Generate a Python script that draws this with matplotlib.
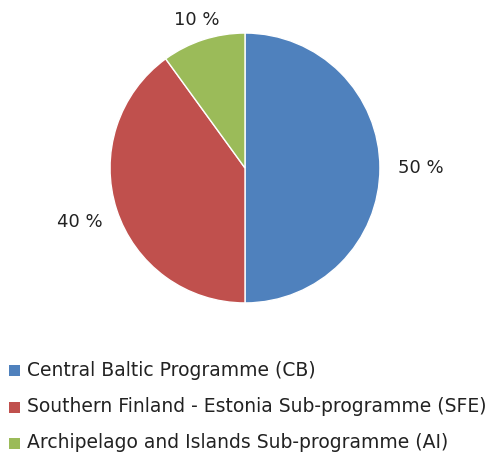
import numpy as np
import matplotlib.pyplot as plt
from matplotlib.patches import Rectangle

plt.rcParams['font.family'] = ['DejaVu Sans']

labels = ['Central Baltic Programme (CB)',
          'Southern Finland - Estonia Sub-programme (SFE)',
          'Archipelago and Islands Sub-programme (AI)']
shares = [50, 40, 10]
colors = ['#4F81BD', '#C0504D', '#9BBB59']
label_dist = [1.30, 1.29, 1.15]

fig = plt.figure(figsize=(4.89, 4.59), dpi=100)
ax = fig.add_axes([0.225, 0.340, 0.552, 0.588])
wedges, _ = ax.pie(shares, colors=colors, startangle=90, counterclock=False,
                   wedgeprops=dict(edgecolor='white', linewidth=1))
ax.set_xlim(-1, 1)
ax.set_ylim(-1, 1)
ax.set_aspect('equal')

for w, s, d in zip(wedges, shares, label_dist):
    ang = np.deg2rad((w.theta1 + w.theta2) / 2)
    ax.text(d * np.cos(ang), d * np.sin(ang), f'{s} %', ha='center', va='center',
            fontsize=13, color='#222222', clip_on=False)

# legend
ys = [370, 407, 443]
for lab, c, y in zip(labels, colors, ys):
    yf = 1 - y / 459
    fig.patches.append(Rectangle((9 / 489, yf - 5.5 / 459), 11 / 489, 11 / 459,
                                 transform=fig.transFigure, facecolor=c, edgecolor='none'))
    fig.text(27 / 489, yf, lab, ha='left', va='center', fontsize=13.5, color='#222222')

fig.savefig('out.png', dpi=100)
